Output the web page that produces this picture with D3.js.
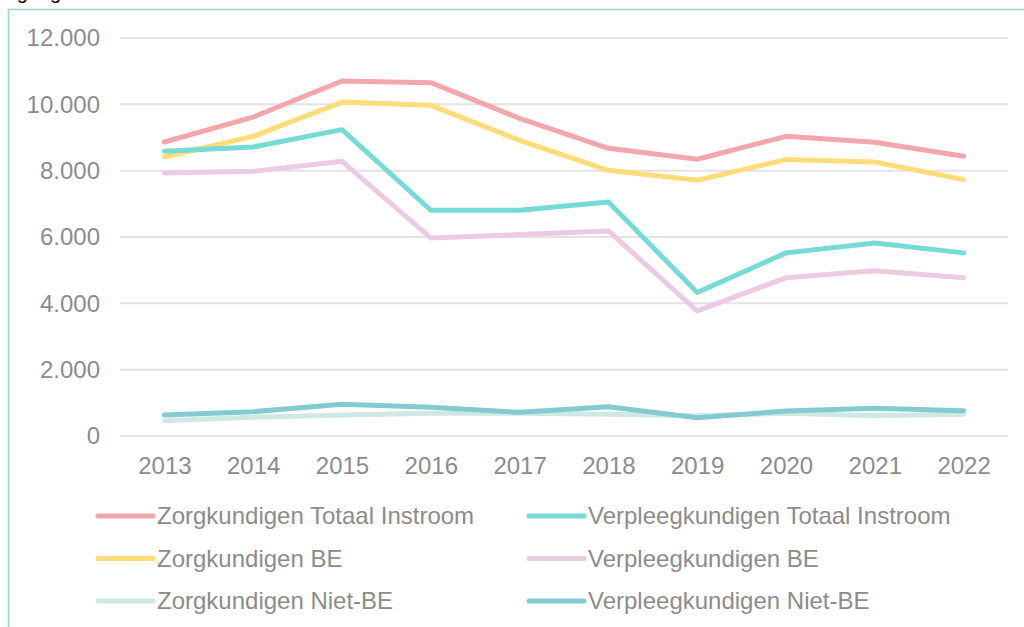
<!DOCTYPE html>
<html>
<head>
<meta charset="utf-8">
<script src="https://cdn.jsdelivr.net/npm/d3@7"></script>
<style>
  body { margin: 0; background: #fff; }
  text { font-family: "Liberation Sans", Arial, sans-serif; }
</style>
</head>
<body>
<script>
const width = 1024;
const height = 627;

// Data
const years = ["2013", "2014", "2015", "2016", "2017", "2018", "2019", "2020", "2021", "2022"];
const yTicks = [0, 2000, 4000, 6000, 8000, 10000, 12000];

const zorgTotaal = [8865, 9617, 10702, 10653, 9578, 8675, 8345, 9035, 8855, 8435];
const zorgBE = [8413, 9036, 10069, 9970, 8915, 8012, 7711, 8334, 8262, 7731];
const zorgNietBE = [462, 562, 632, 683, 683, 653, 612, 683, 612, 653];
const verplTotaal = [8584, 8714, 9237, 6807, 6807, 7057, 4328, 5521, 5822, 5521];
const verplBE = [7931, 7982, 8283, 5973, 6075, 6184, 3774, 4768, 4979, 4768];
const verplNietBE = [632, 733, 954, 864, 713, 884, 552, 753, 833, 763];

const seriesNames = [
    "Zorgkundigen Totaal Instroom", "Verpleegkundigen Totaal Instroom",
    "Zorgkundigen BE", "Verpleegkundigen BE",
    "Zorgkundigen Niet-BE", "Verpleegkundigen Niet-BE"
];
const seriesValues = [zorgTotaal, verplTotaal, zorgBE, verplBE, zorgNietBE, verplNietBE];
const seriesColors = ["#f4a7aa", "#76dbd5", "#ffdc7a", "#eacbe2", "#cfe8e3", "#84cbd1"];

// drawing order (back to front)
const drawOrder = [4, 2, 0, 3, 1, 5];

const svg = d3.select("body")
    .append("svg")
    .attr("width", width)
    .attr("height", height);

// title, mostly above the top edge
svg.append("text")
    .attr("x", 0)
    .attr("y", -1)
    .attr("font-size", "20px")
    .attr("fill", "#000")
    .text("Ingang in de sector");

// frame
svg.append("path")
    .attr("d", `M8.5,${height} V9.5 H${width}`)
    .attr("fill", "none")
    .attr("stroke", "#8ad8cf")
    .attr("stroke-width", 1.5);

const x = d3.scalePoint()
    .domain(years)
    .range([120, 1008])
    .padding(0.5);

const y = d3.scaleLinear()
    .domain([0, 12000])
    .range([436, 38]);

const nl = d3.formatLocale({ decimal: ",", thousands: ".", grouping: [3], currency: ["€", ""] });
const fmt = nl.format(",.0f");

// gridlines
svg.append("g")
    .selectAll("line")
    .data(yTicks)
    .enter()
    .append("line")
    .attr("x1", 120)
    .attr("x2", 1008)
    .attr("y1", d => y(d))
    .attr("y2", d => y(d))
    .attr("stroke", "#e3e3e3")
    .attr("stroke-width", 2);

// y axis labels
const yAxis = svg.append("g")
    .attr("transform", "translate(100,0)")
    .call(d3.axisLeft(y).tickValues(yTicks).tickFormat(fmt).tickSize(0).tickPadding(0));
yAxis.select(".domain").remove();
yAxis.selectAll("text")
    .attr("font-family", "Liberation Sans, Arial, sans-serif")
    .attr("font-size", "24px")
    .attr("fill", "#8c8c8c");

// x axis labels
const xAxis = svg.append("g")
    .attr("transform", "translate(0,457)")
    .call(d3.axisBottom(x).tickSize(0).tickPadding(0));
xAxis.select(".domain").remove();
xAxis.selectAll("text")
    .attr("font-family", "Liberation Sans, Arial, sans-serif")
    .attr("font-size", "24px")
    .attr("fill", "#8c8c8c");

// lines
const line = d3.line()
    .x((d, i) => x(years[i]))
    .y(d => y(d));

svg.append("g")
    .selectAll("path")
    .data(drawOrder)
    .enter()
    .append("path")
    .attr("d", i => line(seriesValues[i]))
    .attr("fill", "none")
    .attr("stroke", i => seriesColors[i])
    .attr("stroke-width", 5)
    .attr("stroke-linecap", "round")
    .attr("stroke-linejoin", "round");

// legend
const legend = svg.append("g")
    .selectAll("g")
    .data(seriesNames)
    .enter()
    .append("g")
    .attr("transform", (d, i) => `translate(${i % 2 === 0 ? 98 : 529},${516 + Math.floor(i / 2) * 42.5})`);

legend.append("line")
    .attr("x1", 0)
    .attr("x2", 55)
    .attr("stroke", (d, i) => seriesColors[i])
    .attr("stroke-width", 5)
    .attr("stroke-linecap", "round");

legend.append("text")
    .attr("x", 59)
    .attr("y", 8)
    .attr("font-size", "24px")
    .attr("fill", "#8c8c8c")
    .text(d => d);
</script>
</body>
</html>
